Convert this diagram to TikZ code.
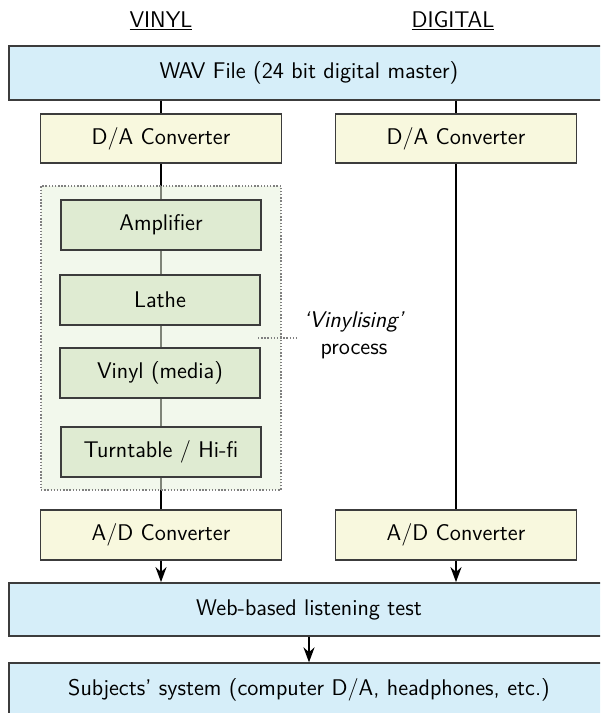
\documentclass[tikz,border=0pt]{standalone}
\usepackage{xcolor}
\definecolor{wavblue}{RGB}{214,238,249}
\definecolor{convyellow}{RGB}{248,248,222}
\definecolor{stepgreen}{RGB}{223,235,210}
\definecolor{groupgreen}{RGB}{232,242,220}
\definecolor{edgegray}{RGB}{60,60,60}
\usepackage{tikz}
\usetikzlibrary{calc,positioning,arrows.meta}

\begin{document}
\begin{tikzpicture}[x=0.02cm,y=-0.02cm,
    box/.style={draw=edgegray,line width=1pt,rectangle,inner sep=0pt,
        font=\sffamily\fontsize{12.9}{15}\selectfont},
    widebox/.style={box,fill=wavblue,minimum width=12cm,minimum height=1.07cm},
    convbox/.style={box,fill=convyellow,minimum width=4.82cm,minimum height=0.99cm},
    stepbox/.style={box,fill=stepgreen,minimum width=4cm,minimum height=1cm},
    link/.style={line width=1.25pt,black},
    arrow/.style={link,-{Stealth[length=3mm,width=2.2mm]}},
    head/.style={font=\sffamily\fontsize{12.9}{15}\selectfont}]
            % Canvas
            \useasboundingbox (0,0) rectangle (600,713);
            \clip (0,0) rectangle (600,713);
            % Columns
            \def\vx{161}
            \def\dx{456}
            \def\mx{309}
            % Column headings
            \node[head] (vinylhead) at (\vx,21) {\underline{VINYL}};
            \node[head] (digitalhead) at (\dx-3,21) {\underline{DIGITAL}};
            % Source
            \node[widebox] (wav) at (\mx,73) {WAV File (24 bit digital master)};
            % Converters
            \node[convbox] (davinyl) at (\vx,138.5) {D/A Converter};
            \node[convbox] (dadigital) at (\dx,138.5) {D/A Converter};
            \node[convbox] (advinyl) at (\vx,535) {A/D Converter};
            \node[convbox] (addigital) at (\dx,535) {A/D Converter};
            % Signal lines (behind the group)
            \draw[link] (wav.south -| davinyl.north) -- (davinyl.north);
            \draw[link] (wav.south -| dadigital.north) -- (dadigital.north);
            \draw[link] (davinyl.south) -- (advinyl.north);
            \draw[link] (dadigital.south) -- (addigital.north);
            % Vinylising group
            \node[draw=gray,densely dotted,line width=0.8pt,fill=groupgreen,fill opacity=0.55,
                minimum width=4.8cm,minimum height=6.08cm] (group) at (\vx,338) {};
            % Vinyl steps
            \node[stepbox] (amp) at (\vx,225) {Amplifier};
            \node[stepbox] (lathe) at (\vx-1,300) {Lathe};
            \node[stepbox] (media) at (\vx-1,373) {Vinyl (media)};
            \node[stepbox] (turntable) at (\vx,452) {Turntable / Hi-fi};
            % Label
            \node[head,align=center,font=\sffamily\fontsize{12.9}{15.5}\selectfont] (vinylising) at (354,335)
                {\textit{`Vinylising'}\\process};
            \coordinate (tick) at (258,338);
            \draw[gray,densely dotted,line width=0.8pt] (tick) -- (tick -| vinylising.west);
            % Listening test
            \node[widebox,minimum height=1.06cm] (web) at (\mx,609.5) {Web-based listening test};
            \node[widebox] (subjects) at (\mx,690) {Subjects' system (computer D/A, headphones, etc.)};
            \draw[arrow] (advinyl.south) -- (web.north -| advinyl.south);
            \draw[arrow] (addigital.south) -- (web.north -| addigital.south);
            \draw[arrow] (web.south) -- (subjects.north);
\end{tikzpicture}
\end{document}
